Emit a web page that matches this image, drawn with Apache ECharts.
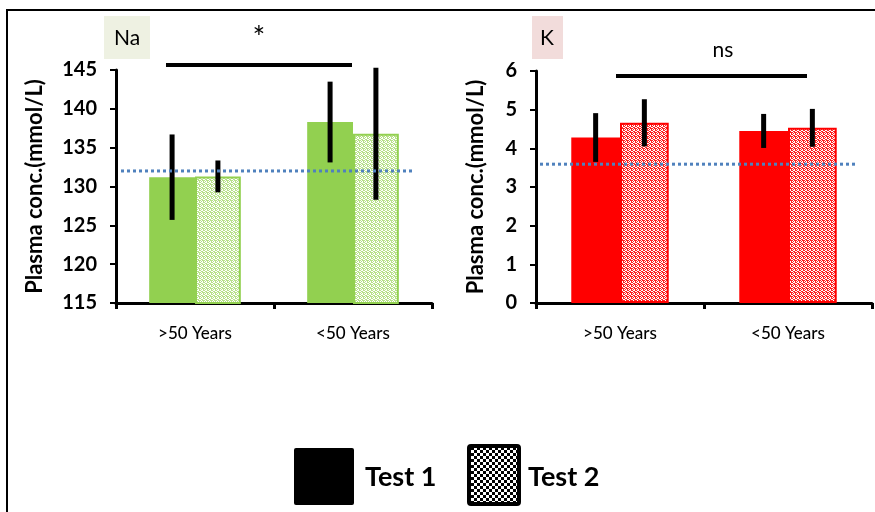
<!DOCTYPE html>
<html><head><meta charset="utf-8">
<script src="https://cdn.jsdelivr.net/npm/echarts@6/dist/echarts.min.js"></script>
<style>html,body{margin:0;padding:0;background:#fff}#c{width:875px;height:512px}</style>
</head><body><div id="c"></div>
<script>
// ---- data ----
const categories = ['>50 Years', '<50 Years'];
const naTest1 = [131.2, 138.3];
const naTest1Err = [5.5, 5.2];
const naTest2 = [131.3, 136.8];
const naTest2Err = [2.05, 8.5];
const kTest1 = [4.28, 4.45];
const kTest1Err = [0.63, 0.44];
const kTest2 = [4.66, 4.53];
const kTest2Err = [0.61, 0.49];
const naRef = 132.0;
const kRef = 3.59;
const naTicks = [115, 145, 5];
const kTicks = [0, 6, 1];

function speckle(base) {
  const c = document.createElement('canvas');
  c.width = 4; c.height = 4;
  const g = c.getContext('2d');
  g.fillStyle = '#ffffff'; g.fillRect(0, 0, 4, 4);
  g.fillStyle = base;
  const px = [[0,0],[2,0],[1,1],[3,1],[0,2],[3,2],[1,3],[2,3],[3,0]];
  px.forEach(p => g.fillRect(p[0], p[1], 1, 1));
  return c;
}
function checker() {
  const c = document.createElement('canvas');
  c.width = 6; c.height = 6;
  const g = c.getContext('2d');
  g.fillStyle = '#fff'; g.fillRect(0, 0, 6, 6);
  g.fillStyle = '#000'; g.fillRect(0, 0, 3, 3); g.fillRect(3, 3, 3, 3);
  return c;
}
const GREEN = '#92d050', RED = '#ff0000';
const font = 'Lato, "Open Sans", sans-serif';

function errSeries(vals, errs, xi, yi, offset) {
  return {
    type: 'custom', xAxisIndex: xi, yAxisIndex: yi, z: 10, clip: false,
    data: vals.map((v, i) => [i, v - errs[i], v + errs[i]]),
    renderItem: function (params, api) {
      const lo = api.coord([api.value(0), api.value(1)]);
      const hi = api.coord([api.value(0), api.value(2)]);
      const half = api.size([1, 0])[0] * 0.58 / 4;
      const x = lo[0] + offset * half;
      return { type: 'line', shape: { x1: x, y1: lo[1], x2: x, y2: hi[1] },
        style: { stroke: '#000', lineWidth: 5 } };
    }
  };
}
function refSeries(v, xi, yi, padL, padR) {
  return {
    type: 'custom', xAxisIndex: xi, yAxisIndex: yi, z: 12, clip: false,
    data: [[0, v]],
    renderItem: function (params, api) {
      const p = api.coord([0, api.value(1)]);
      const cs = params.coordSys;
      return { type: 'line', shape: { x1: cs.x + padL, y1: p[1], x2: cs.x + cs.width - padR, y2: p[1] },
        style: { stroke: '#4f81bd', lineWidth: 3, lineDash: [3, 3] } };
    }
  };
}
function xAx(gi) {
  return { type: 'category', gridIndex: gi, data: categories,
    axisLine: { lineStyle: { color: '#000', width: 3 } },
    axisTick: { show: true, length: 6, lineStyle: { color: '#000', width: 3 } },
    axisLabel: { color: '#000', fontSize: 17, fontFamily: font, margin: 22, fontWeight: 500 } };
}
function yAx(gi, t) {
  return { type: 'value', gridIndex: gi, min: t[0], max: t[1], interval: t[2],
    name: 'Plasma conc.(mmol/L)', nameLocation: 'middle', nameGap: gi === 0 ? 70 : 49, nameRotate: 90,
    nameTextStyle: { color: '#000', fontSize: 22, fontWeight: 'bold', fontFamily: font },
    axisLine: { show: true, lineStyle: { color: '#000', width: 3 } },
    axisTick: { show: true, length: 6, lineStyle: { color: '#000', width: 2 } },
    splitLine: { show: false },
    axisLabel: { color: '#000', fontSize: 20, fontWeight: 'bold', fontFamily: font, margin: 19 } };
}
const barCommon = { barGap: '0%', barCategoryGap: '42%' };

const chart = echarts.init(document.getElementById('c'));
chart.setOption({
  animation: false,
  backgroundColor: '#fff',
  grid: [
    { left: 116, top: 70, width: 316, height: 233 },
    { left: 536, top: 71, width: 336, height: 232 }
  ],
  xAxis: [xAx(0), xAx(1)],
  yAxis: [yAx(0, naTicks), yAx(1, kTicks)],
  series: [
    Object.assign({ type: 'bar', name: 'Test 1', xAxisIndex: 0, yAxisIndex: 0, data: naTest1,
      itemStyle: { color: GREEN } }, barCommon),
    Object.assign({ type: 'bar', name: 'Test 2', xAxisIndex: 0, yAxisIndex: 0, data: naTest2,
      itemStyle: { color: { image: speckle('#b8e08a'), repeat: 'repeat' }, borderColor: GREEN, borderWidth: 2 } }, barCommon),
    Object.assign({ type: 'bar', name: 'Test 1', xAxisIndex: 1, yAxisIndex: 1, data: kTest1,
      itemStyle: { color: RED } }, barCommon),
    Object.assign({ type: 'bar', name: 'Test 2', xAxisIndex: 1, yAxisIndex: 1, data: kTest2,
      itemStyle: { color: { image: speckle('#ff2020'), repeat: 'repeat' }, borderColor: RED, borderWidth: 2 } }, barCommon),
    errSeries(naTest1, naTest1Err, 0, 0, -1),
    errSeries(naTest2, naTest2Err, 0, 0, 1),
    errSeries(kTest1, kTest1Err, 1, 1, -1),
    errSeries(kTest2, kTest2Err, 1, 1, 1),
    refSeries(naRef, 0, 0, 5, 19),
    refSeries(kRef, 1, 1, 4, 17)
  ],
  graphic: [
    { type: 'rect', shape: { x: 7, y: 10, width: 900, height: 600 }, style: { fill: 'none', stroke: '#000', lineWidth: 2 }, z: 100 },
    { type: 'rect', shape: { x: 104, y: 16, width: 46, height: 43 }, style: { fill: '#eef1e2' } },
    { type: 'text', x: 127, y: 38, style: { text: 'Na', fontSize: 21, fontFamily: font, fill: '#000', align: 'center', verticalAlign: 'middle' } },
    { type: 'rect', shape: { x: 532, y: 16, width: 31, height: 43 }, style: { fill: '#f2dcdb' } },
    { type: 'text', x: 547, y: 38, style: { text: 'K', fontSize: 21, fontFamily: font, fill: '#000', align: 'center', verticalAlign: 'middle' } },
    { type: 'line', shape: { x1: 166, y1: 65, x2: 352, y2: 65 }, style: { stroke: '#000', lineWidth: 4 } },
    { type: 'text', x: 259, y: 38, style: { text: '*', fontSize: 30, fontFamily: font, fill: '#000', align: 'center', verticalAlign: 'middle' } },
    { type: 'line', shape: { x1: 616, y1: 76, x2: 807, y2: 76 }, style: { stroke: '#000', lineWidth: 4 } },
    { type: 'text', x: 723, y: 50, style: { text: 'ns', fontSize: 21, fontFamily: font, fill: '#000', align: 'center', verticalAlign: 'middle' } },
    { type: 'rect', shape: { x: 294, y: 448, width: 60, height: 57, r: 2 }, style: { fill: '#000' } },
    { type: 'text', x: 365, y: 477, style: { text: 'Test 1', fontSize: 27, fontWeight: 'bold', fontFamily: font, fill: '#000', verticalAlign: 'middle' } },
    { type: 'rect', shape: { x: 469, y: 446, width: 50, height: 58, r: 2 }, style: { fill: { image: checker(), repeat: 'repeat' }, stroke: '#000', lineWidth: 4 } },
    { type: 'text', x: 528, y: 477, style: { text: 'Test 2', fontSize: 27, fontWeight: 'bold', fontFamily: font, fill: '#000', verticalAlign: 'middle' } }
  ]
});
</script></body></html>
